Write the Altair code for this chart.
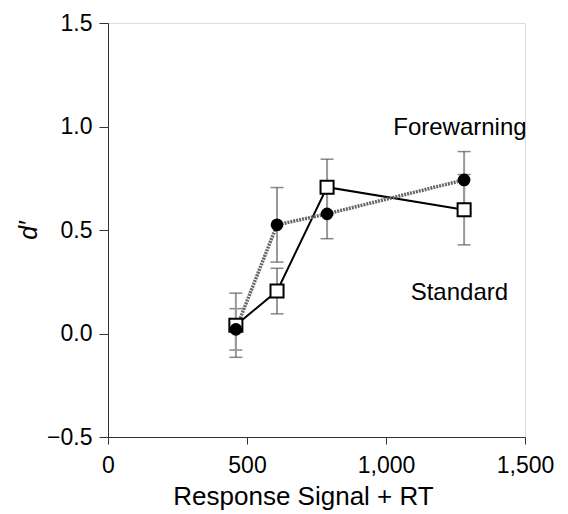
import altair as alt
import pandas as pd

# Data
rt = [460, 608, 788, 1281]
fore_d = [0.02, 0.525, 0.578, 0.742]
fore_err = [0.10, 0.18, 0.12, 0.137]
std_d = [0.04, 0.205, 0.707, 0.598]
std_err = [0.155, 0.11, 0.135, 0.17]

x_ticks = [0, 500, 1000, 1500]
y_ticks = [-0.5, 0.0, 0.5, 1.0, 1.5]

labels = ["Forewarning", "Standard"]
label_x = [1266, 1264]
label_y = [0.995, 0.198]

FONT = "Liberation Sans"

fore = pd.DataFrame({"x": rt, "y": fore_d, "lo": [a - b for a, b in zip(fore_d, fore_err)],
                     "hi": [a + b for a, b in zip(fore_d, fore_err)]})
std = pd.DataFrame({"x": rt, "y": std_d, "lo": [a - b for a, b in zip(std_d, std_err)],
                    "hi": [a + b for a, b in zip(std_d, std_err)]})
lab = pd.DataFrame({"x": label_x, "y": label_y, "t": labels})

xs = alt.Scale(domain=[0, 1500], nice=False, zero=False)
ys = alt.Scale(domain=[-0.5, 1.5], nice=False, zero=False)

X = alt.X("x:Q", scale=xs, axis=alt.Axis(
    title="Response Signal + RT", values=x_ticks, format=",.0f", grid=False,
    tickSize=7, labelPadding=10, labelFontSize=23, titleFontSize=26, labelFlush=False,
    labelFont=FONT, titleFont=FONT, titleFontWeight="normal",
    labelColor="black", titleColor="black", domainColor="#333", tickColor="#333",
    titleX=195, titleY=67, titleBaseline="alphabetic"))
Y = alt.Y("y:Q", scale=ys, axis=alt.Axis(
    title="d′", values=y_ticks, format=".1f", grid=False,
    tickSize=9, labelPadding=7, labelFontSize=23, titleFontSize=25, labelFlush=False,
    labelFont=FONT, titleFont=FONT, titleFontWeight="normal", titleFontStyle="italic",
    labelColor="black", titleColor="black", domainColor="#333", tickColor="#333",
    titleX=-80, titleY=207, titleBaseline="middle", titleAlign="center"))


def bars(df):
    rule = alt.Chart(df).mark_rule(color="#999", strokeWidth=2).encode(
        x=alt.X("x:Q", scale=xs), y=alt.Y("lo:Q", scale=ys), y2="hi:Q")
    top = alt.Chart(df).mark_tick(color="#555", thickness=1.5, size=13, orient="horizontal").encode(
        x=alt.X("x:Q", scale=xs), y=alt.Y("hi:Q", scale=ys))
    bot = alt.Chart(df).mark_tick(color="#555", thickness=1.5, size=13, orient="horizontal").encode(
        x=alt.X("x:Q", scale=xs), y=alt.Y("lo:Q", scale=ys))
    return rule + top + bot


std_line = alt.Chart(std).mark_line(color="black", strokeWidth=2).encode(x=X, y=Y)
fore_line = alt.Chart(fore).mark_line(color="#666", strokeWidth=3.5, strokeDash=[2, 1]).encode(
    x=alt.X("x:Q", scale=xs), y=alt.Y("y:Q", scale=ys))
std_pts = alt.Chart(std).mark_point(shape="square", filled=True, fill="white", stroke="black",
                                    strokeWidth=2, size=170, opacity=1).encode(
    x=alt.X("x:Q", scale=xs), y=alt.Y("y:Q", scale=ys))
fore_pts = alt.Chart(fore).mark_point(shape="circle", filled=True, color="black",
                                      size=160, opacity=1).encode(
    x=alt.X("x:Q", scale=xs), y=alt.Y("y:Q", scale=ys))
texts = alt.Chart(lab).mark_text(font=FONT, fontSize=24, color="black", align="center",
                                 baseline="middle").encode(
    x=alt.X("x:Q", scale=xs), y=alt.Y("y:Q", scale=ys), text="t:N")

chart = alt.layer(
    std_line, bars(fore), bars(std), fore_line, std_pts, fore_pts, texts
).properties(
    width=417, height=414,
    autosize=alt.AutoSizeParams(type="none"),
    padding={"left": 100, "top": 15, "right": 35, "bottom": 77},
).configure_view(stroke=None).configure(background="white")

chart.save("out.html", embed_options={"renderer": "svg", "actions": False})
